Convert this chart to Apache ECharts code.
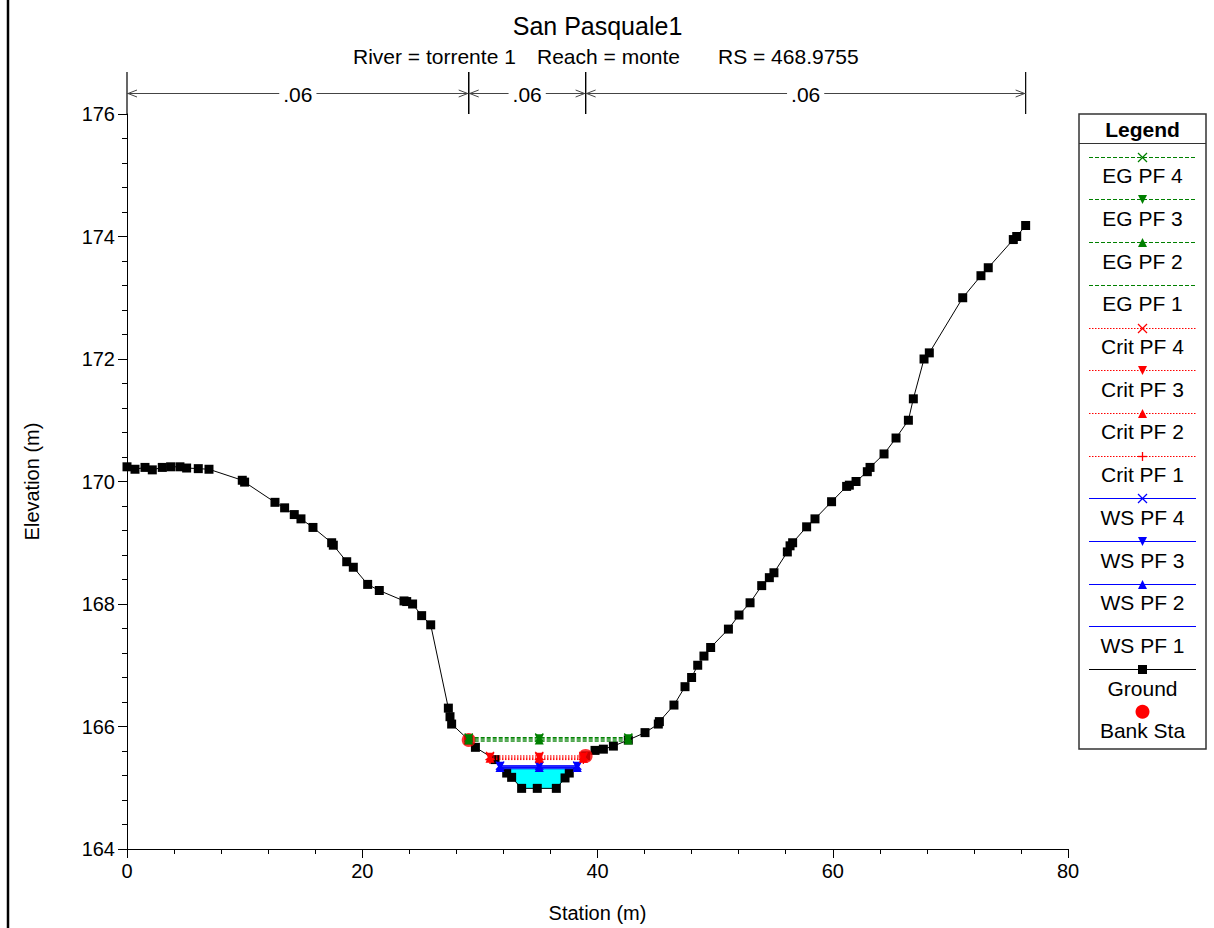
<!DOCTYPE html>
<html>
<head>
<meta charset="utf-8">
<title>San Pasquale1</title>
<script src="https://cdn.jsdelivr.net/npm/echarts@6/dist/echarts.min.js"></script>
<style>
  html, body { margin: 0; padding: 0; background: #fff; }
  #chart { width: 1214px; height: 928px; }
</style>
</head>
<body>
<div id="chart"></div>
<script>
// ---- Cross-section survey: station (m) and elevation (m) ----
const groundStation = [
  0.0, 0.68, 1.53, 2.15, 3.0, 3.71, 4.5, 5.07, 6.06, 6.97,
  9.8, 10.0, 12.58, 13.4, 14.22, 14.79, 15.81, 17.4, 17.54, 18.68,
  19.24, 20.46, 21.45, 23.55, 23.78, 24.28, 25.05, 25.82, 27.32, 27.46,
  27.6, 29.05, 29.62, 31.29, 32.28, 32.7, 33.55, 34.88, 36.5, 37.24,
  37.6, 38.99, 39.79, 40.5, 41.35, 42.62, 44.04, 45.17, 45.26, 46.5,
  47.44, 48.0, 48.52, 49.05, 49.62, 51.13, 52.03, 52.97, 53.96, 54.61,
  55.0, 56.14, 56.37, 56.59, 57.78, 58.49, 59.9, 61.18, 61.41, 61.98,
  62.94, 63.17, 64.36, 65.38, 66.43, 66.85, 67.76, 68.21, 71.05, 72.6,
  73.22, 75.35, 75.64, 76.4
];
const groundElev = [
  170.24, 170.20, 170.23, 170.19, 170.23, 170.24, 170.24, 170.22, 170.21, 170.20,
  170.02, 169.99, 169.66, 169.57, 169.46, 169.39, 169.25, 169.00, 168.96, 168.69,
  168.60, 168.32, 168.22, 168.05, 168.04, 168.00, 167.81, 167.66, 166.30, 166.16,
  166.04, 165.78, 165.66, 165.46, 165.24, 165.17, 164.99, 164.99, 164.99, 165.16,
  165.24, 165.52, 165.61, 165.63, 165.68, 165.78, 165.90, 166.04, 166.08, 166.35,
  166.65, 166.80, 167.00, 167.15, 167.29, 167.59, 167.82, 168.02, 168.30, 168.43,
  168.51, 168.85, 168.95, 169.00, 169.26, 169.39, 169.67, 169.92, 169.94, 170.00,
  170.16, 170.23, 170.45, 170.71, 171.00, 171.35, 172.00, 172.10, 173.00, 173.36,
  173.49, 173.95, 174.00, 174.18
];

// Bank stations
const bankStation = [29.05, 38.99];
const bankElev = [165.78, 165.52];

// Manning's n for left overbank, channel, right overbank
const manningN = ['.06', '.06', '.06'];

// Profiles PF 1 .. PF 4
const profileNames = ['PF 1', 'PF 2', 'PF 3', 'PF 4'];
const egElev = [165.76, 165.78, 165.80, 165.82];
const critElev = [165.46, 165.48, 165.50, 165.52];
const wsElev = [165.31, 165.33, 165.35, 165.36];
// left edge, centre, right edge of each computed surface
const egStation = [29.05, 35.05, 42.62];
const critStation = [30.86, 35.05, 38.80];
const wsStation = [31.71, 35.05, 38.28];

// Axis ranges
const xRange = [0, 80, 20];
const yRange = [164, 176, 2];

// ---- styling ----
const FONT = 'Liberation Sans, Arial, Helvetica, sans-serif';
const EG_COLOR = '#008000', CRIT_COLOR = '#ff0000', WS_COLOR = '#0000ff';
const SYM_X = 'path://M1,0L5,4L9,0L10,1L6,5L10,9L9,10L5,6L1,10L0,9L4,5L0,1Z';
const SYM_PLUS = 'path://M4.3,0H5.7V4.3H10V5.7H5.7V10H4.3V5.7H0V4.3H4.3Z';
// marker per profile index (PF1..PF4)
const egMarks = [null, 'up', 'down', 'x'];
const critMarks = ['plus', 'up', 'down', 'x'];
const wsMarks = [null, 'up', 'down', 'x'];

function symbolOf(kind) {
  if (kind === 'x') return { symbol: SYM_X, symbolRotate: 0 };
  if (kind === 'plus') return { symbol: SYM_PLUS, symbolRotate: 0 };
  if (kind === 'up') return { symbol: 'triangle', symbolRotate: 0 };
  if (kind === 'down') return { symbol: 'triangle', symbolRotate: 180 };
  return { symbol: 'none', symbolRotate: 0 };
}

function zip(xs, ys) { return xs.map((x, i) => [x, ys[i]]); }
const groundData = zip(groundStation, groundElev);

// Water area of the lowest profile: ground below the surface, bounded by its crossings
function waterPolygon(level) {
  let iMin = -1;
  for (let i = 0; i < groundElev.length; i++) {
    if (groundStation[i] < bankStation[0] || groundStation[i] > bankStation[1]) continue;
    if (iMin < 0 || groundElev[i] < groundElev[iMin]) iMin = i;
  }
  let l = iMin; while (l > 0 && groundElev[l - 1] < level) l--;
  let r = iMin; while (r < groundElev.length - 1 && groundElev[r + 1] < level) r++;
  const cross = (a, b) => {
    const t = (level - groundElev[a]) / (groundElev[b] - groundElev[a]);
    return groundStation[a] + t * (groundStation[b] - groundStation[a]);
  };
  const pts = [[cross(l - 1, l), level]];
  for (let i = l; i <= r; i++) pts.push([groundStation[i], groundElev[i]]);
  pts.push([cross(r + 1, r), level]);
  return pts;
}
const waterPts = waterPolygon(wsElev[0]);

function profileSeries(prefix, elevs, stations, marks, color, lineType, z) {
  return elevs.map((e, i) => {
    const s = symbolOf(marks[i]);
    return {
      name: prefix + ' ' + profileNames[i],
      type: 'line',
      xAxisIndex: 0, yAxisIndex: 0,
      data: stations.map(st => [st, e]),
      symbol: s.symbol,
      symbolRotate: s.symbolRotate,
      symbolSize: 9,
      showSymbol: marks[i] !== null,
      lineStyle: { color: color, width: 1, type: lineType },
      itemStyle: { color: color },
      z: z,
      silent: true
    };
  });
}

// Manning's n bar segments between breaks
const nBreaks = [groundStation[0], bankStation[0], bankStation[1], groundStation[groundStation.length - 1]];
const nSegments = manningN.map((v, i) => [nBreaks[i], nBreaks[i + 1]]);

function renderNBar(params, api) {
  const a = api.coord([api.value(0), 1]);
  const a0 = api.coord([api.value(0), 0]);
  const b = api.coord([api.value(1), 1]);
  const b0 = api.coord([api.value(1), 0]);
  const ym = Math.round(api.coord([api.value(0), 0.5])[1]) + 0.5;
  const st = { stroke: '#000', lineWidth: 1.2, fill: null };
  const ar = { stroke: '#444', lineWidth: 1, fill: null };
  return {
    type: 'group',
    children: [
      { type: 'line', shape: { x1: a[0], y1: a[1], x2: a0[0], y2: a0[1] }, style: st },
      { type: 'line', shape: { x1: b[0], y1: b[1], x2: b0[0], y2: b0[1] }, style: st },
      { type: 'line', shape: { x1: a[0], y1: ym, x2: b[0], y2: ym }, style: ar },
      { type: 'polyline', shape: { points: [[a[0] + 10, ym - 3.5], [a[0] + 1, ym], [a[0] + 10, ym + 3.5]] }, style: ar },
      { type: 'polyline', shape: { points: [[b[0] - 10, ym - 3.5], [b[0] - 1, ym], [b[0] - 10, ym + 3.5]] }, style: ar },
      {
        type: 'text', x: (a[0] + b[0]) / 2, y: ym + 1,
        style: {
          text: manningN[params.dataIndex], font: '21px ' + FONT, fill: '#000',
          align: 'center', verticalAlign: 'middle', backgroundColor: '#fff', padding: [0, 4]
        }
      }
    ]
  };
}

// ---- legend (drawn as a boxed column: line sample above, caption below) ----
const legendEntries = [];
for (let i = 3; i >= 0; i--) legendEntries.push({ text: 'EG ' + profileNames[i], color: EG_COLOR, dash: [4, 2], mark: egMarks[i] });
for (let i = 3; i >= 0; i--) legendEntries.push({ text: 'Crit ' + profileNames[i], color: CRIT_COLOR, dash: [1.5, 1.5], mark: critMarks[i] });
for (let i = 3; i >= 0; i--) legendEntries.push({ text: 'WS ' + profileNames[i], color: WS_COLOR, dash: null, mark: wsMarks[i] });
legendEntries.push({ text: 'Ground', color: '#000', dash: null, mark: 'rect' });

function markerGraphic(kind, cx, cy, color) {
  const h = 4.5;
  if (kind === 'x') return [
    { type: 'line', shape: { x1: cx - h, y1: cy - h, x2: cx + h, y2: cy + h }, style: { stroke: color, lineWidth: 1.3 } },
    { type: 'line', shape: { x1: cx - h, y1: cy + h, x2: cx + h, y2: cy - h }, style: { stroke: color, lineWidth: 1.3 } }];
  if (kind === 'plus') return [
    { type: 'line', shape: { x1: cx - h, y1: cy, x2: cx + h, y2: cy }, style: { stroke: color, lineWidth: 1.3 } },
    { type: 'line', shape: { x1: cx, y1: cy - h, x2: cx, y2: cy + h }, style: { stroke: color, lineWidth: 1.3 } }];
  if (kind === 'up') return [{ type: 'polygon', shape: { points: [[cx, cy - h], [cx + h, cy + h], [cx - h, cy + h]] }, style: { fill: color } }];
  if (kind === 'down') return [{ type: 'polygon', shape: { points: [[cx - h, cy - h], [cx + h, cy - h], [cx, cy + h]] }, style: { fill: color } }];
  if (kind === 'rect') return [{ type: 'rect', shape: { x: cx - 4.5, y: cy - 4.5, width: 9, height: 9 }, style: { fill: color } }];
  return [];
}

const LG = { left: 1079, right: 1206, top: 114, bottom: 749, first: 156.7, step: 42.7 };
const LCX = (LG.left + LG.right) / 2;
const legendChildren = [
  { type: 'rect', shape: { x: LG.left, y: LG.top, width: LG.right - LG.left, height: LG.bottom - LG.top },
    style: { fill: '#fff', stroke: '#333', lineWidth: 1.5 } },
  { type: 'line', shape: { x1: LG.left, y1: 143.5, x2: LG.right, y2: 143.5 }, style: { stroke: '#333', lineWidth: 1.2 } },
  { type: 'text', x: LCX, y: 129, style: { text: 'Legend', font: 'bold 21px ' + FONT, fill: '#000', align: 'center', verticalAlign: 'middle' } }
];
legendEntries.forEach((e, i) => {
  const yRaw = LG.first + LG.step * i;
  const y = Math.round(yRaw) + 0.5;
  legendChildren.push({ type: 'line', shape: { x1: 1089, y1: y, x2: 1196, y2: y },
    style: { stroke: e.color, lineWidth: 1, lineDash: e.dash } });
  markerGraphic(e.mark, LCX, y, e.color).forEach(m => legendChildren.push(m));
  legendChildren.push({ type: 'text', x: LCX, y: yRaw + 19,
    style: { text: e.text, font: '21px ' + FONT, fill: '#000', align: 'center', verticalAlign: 'middle' } });
});
legendChildren.push({ type: 'circle', shape: { cx: LCX, cy: 711.7, r: 7 }, style: { fill: '#ff0000' } });
legendChildren.push({ type: 'text', x: LCX, y: 730.5,
  style: { text: 'Bank Sta', font: '21px ' + FONT, fill: '#000', align: 'center', verticalAlign: 'middle' } });

const chart = echarts.init(document.getElementById('chart'), null, { renderer: 'svg' });

const axisCommon = {
  axisLine: { show: true, onZero: false, lineStyle: { color: '#000', width: 1 } },
  axisTick: { show: true, inside: false, length: 9, lineStyle: { color: '#000' } },
  minorTick: { show: true, splitNumber: 5, length: 5, lineStyle: { color: '#000' } },
  splitLine: { show: false },
  minorSplitLine: { show: false },
  axisLabel: { color: '#000', fontSize: 20, fontFamily: FONT, margin: 12 },
  nameTextStyle: { color: '#000', fontSize: 20, fontFamily: FONT }
};

chart.setOption({
  animation: false,
  backgroundColor: '#fff',
  textStyle: { fontFamily: FONT },
  grid: [
    { left: 127, right: 146, top: 114, bottom: 79 },
    { left: 127, right: 146, top: 72, height: 42 }
  ],
  xAxis: [
    Object.assign({}, axisCommon, {
      type: 'value', gridIndex: 0, min: xRange[0], max: xRange[1], interval: xRange[2],
      name: 'Station (m)', nameLocation: 'middle', nameGap: 54
    }),
    { type: 'value', gridIndex: 1, min: xRange[0], max: xRange[1], show: false }
  ],
  yAxis: [
    Object.assign({}, axisCommon, {
      type: 'value', gridIndex: 0, min: yRange[0], max: yRange[1], interval: yRange[2],
      name: 'Elevation (m)', nameLocation: 'middle', nameGap: 85
    }),
    { type: 'value', gridIndex: 1, min: 0, max: 1, show: false }
  ],
  graphic: [
    { type: 'line', shape: { x1: 8, y1: 0, x2: 8, y2: 928 }, style: { stroke: '#000', lineWidth: 2.5 } },
    { type: 'text', x: 597.5, y: 26, style: { text: 'San Pasquale1', font: '25px ' + FONT, fill: '#000', align: 'center', verticalAlign: 'middle' } },
    { type: 'text', x: 353, y: 56, style: { text: 'River = torrente 1', font: '21px ' + FONT, fill: '#000', align: 'left', verticalAlign: 'middle' } },
    { type: 'text', x: 537, y: 56, style: { text: 'Reach = monte', font: '21px ' + FONT, fill: '#000', align: 'left', verticalAlign: 'middle' } },
    { type: 'text', x: 718, y: 56, style: { text: 'RS = 468.9755', font: '21px ' + FONT, fill: '#000', align: 'left', verticalAlign: 'middle' } },
    { type: 'group', children: legendChildren }
  ],
  series: [
    {
      name: 'n values', type: 'custom', xAxisIndex: 1, yAxisIndex: 1,
      renderItem: renderNBar, data: nSegments, clip: false, silent: true, z: 1
    },
    {
      name: 'Water', type: 'custom', xAxisIndex: 0, yAxisIndex: 0, data: [0], silent: true, z: 1,
      renderItem: function (params, api) {
        return { type: 'polygon', shape: { points: waterPts.map(p => api.coord(p)) },
                 style: { fill: '#00ffff', stroke: '#00e0e0', lineWidth: 0.5 } };
      }
    },
    {
      name: 'Ground', type: 'line', data: groundData, symbol: 'rect', symbolSize: 9, showSymbol: true,
      lineStyle: { color: '#000', width: 1 }, itemStyle: { color: '#000' }, z: 2, silent: true
    }
  ]
  .concat(profileSeries('WS', wsElev, wsStation, wsMarks, WS_COLOR, 'solid', 3))
  .concat(profileSeries('Crit', critElev, critStation, critMarks, CRIT_COLOR, [1.5, 1.5], 3))
  .concat([{
    name: 'Bank Sta', type: 'scatter', data: zip(bankStation, bankElev), symbol: 'circle', symbolSize: 14,
    itemStyle: { color: '#ff0000' }, z: 4, silent: true
  }])
  .concat(profileSeries('EG', egElev, egStation, egMarks, EG_COLOR, [4, 2], 5))
});
</script>
</body>
</html>
